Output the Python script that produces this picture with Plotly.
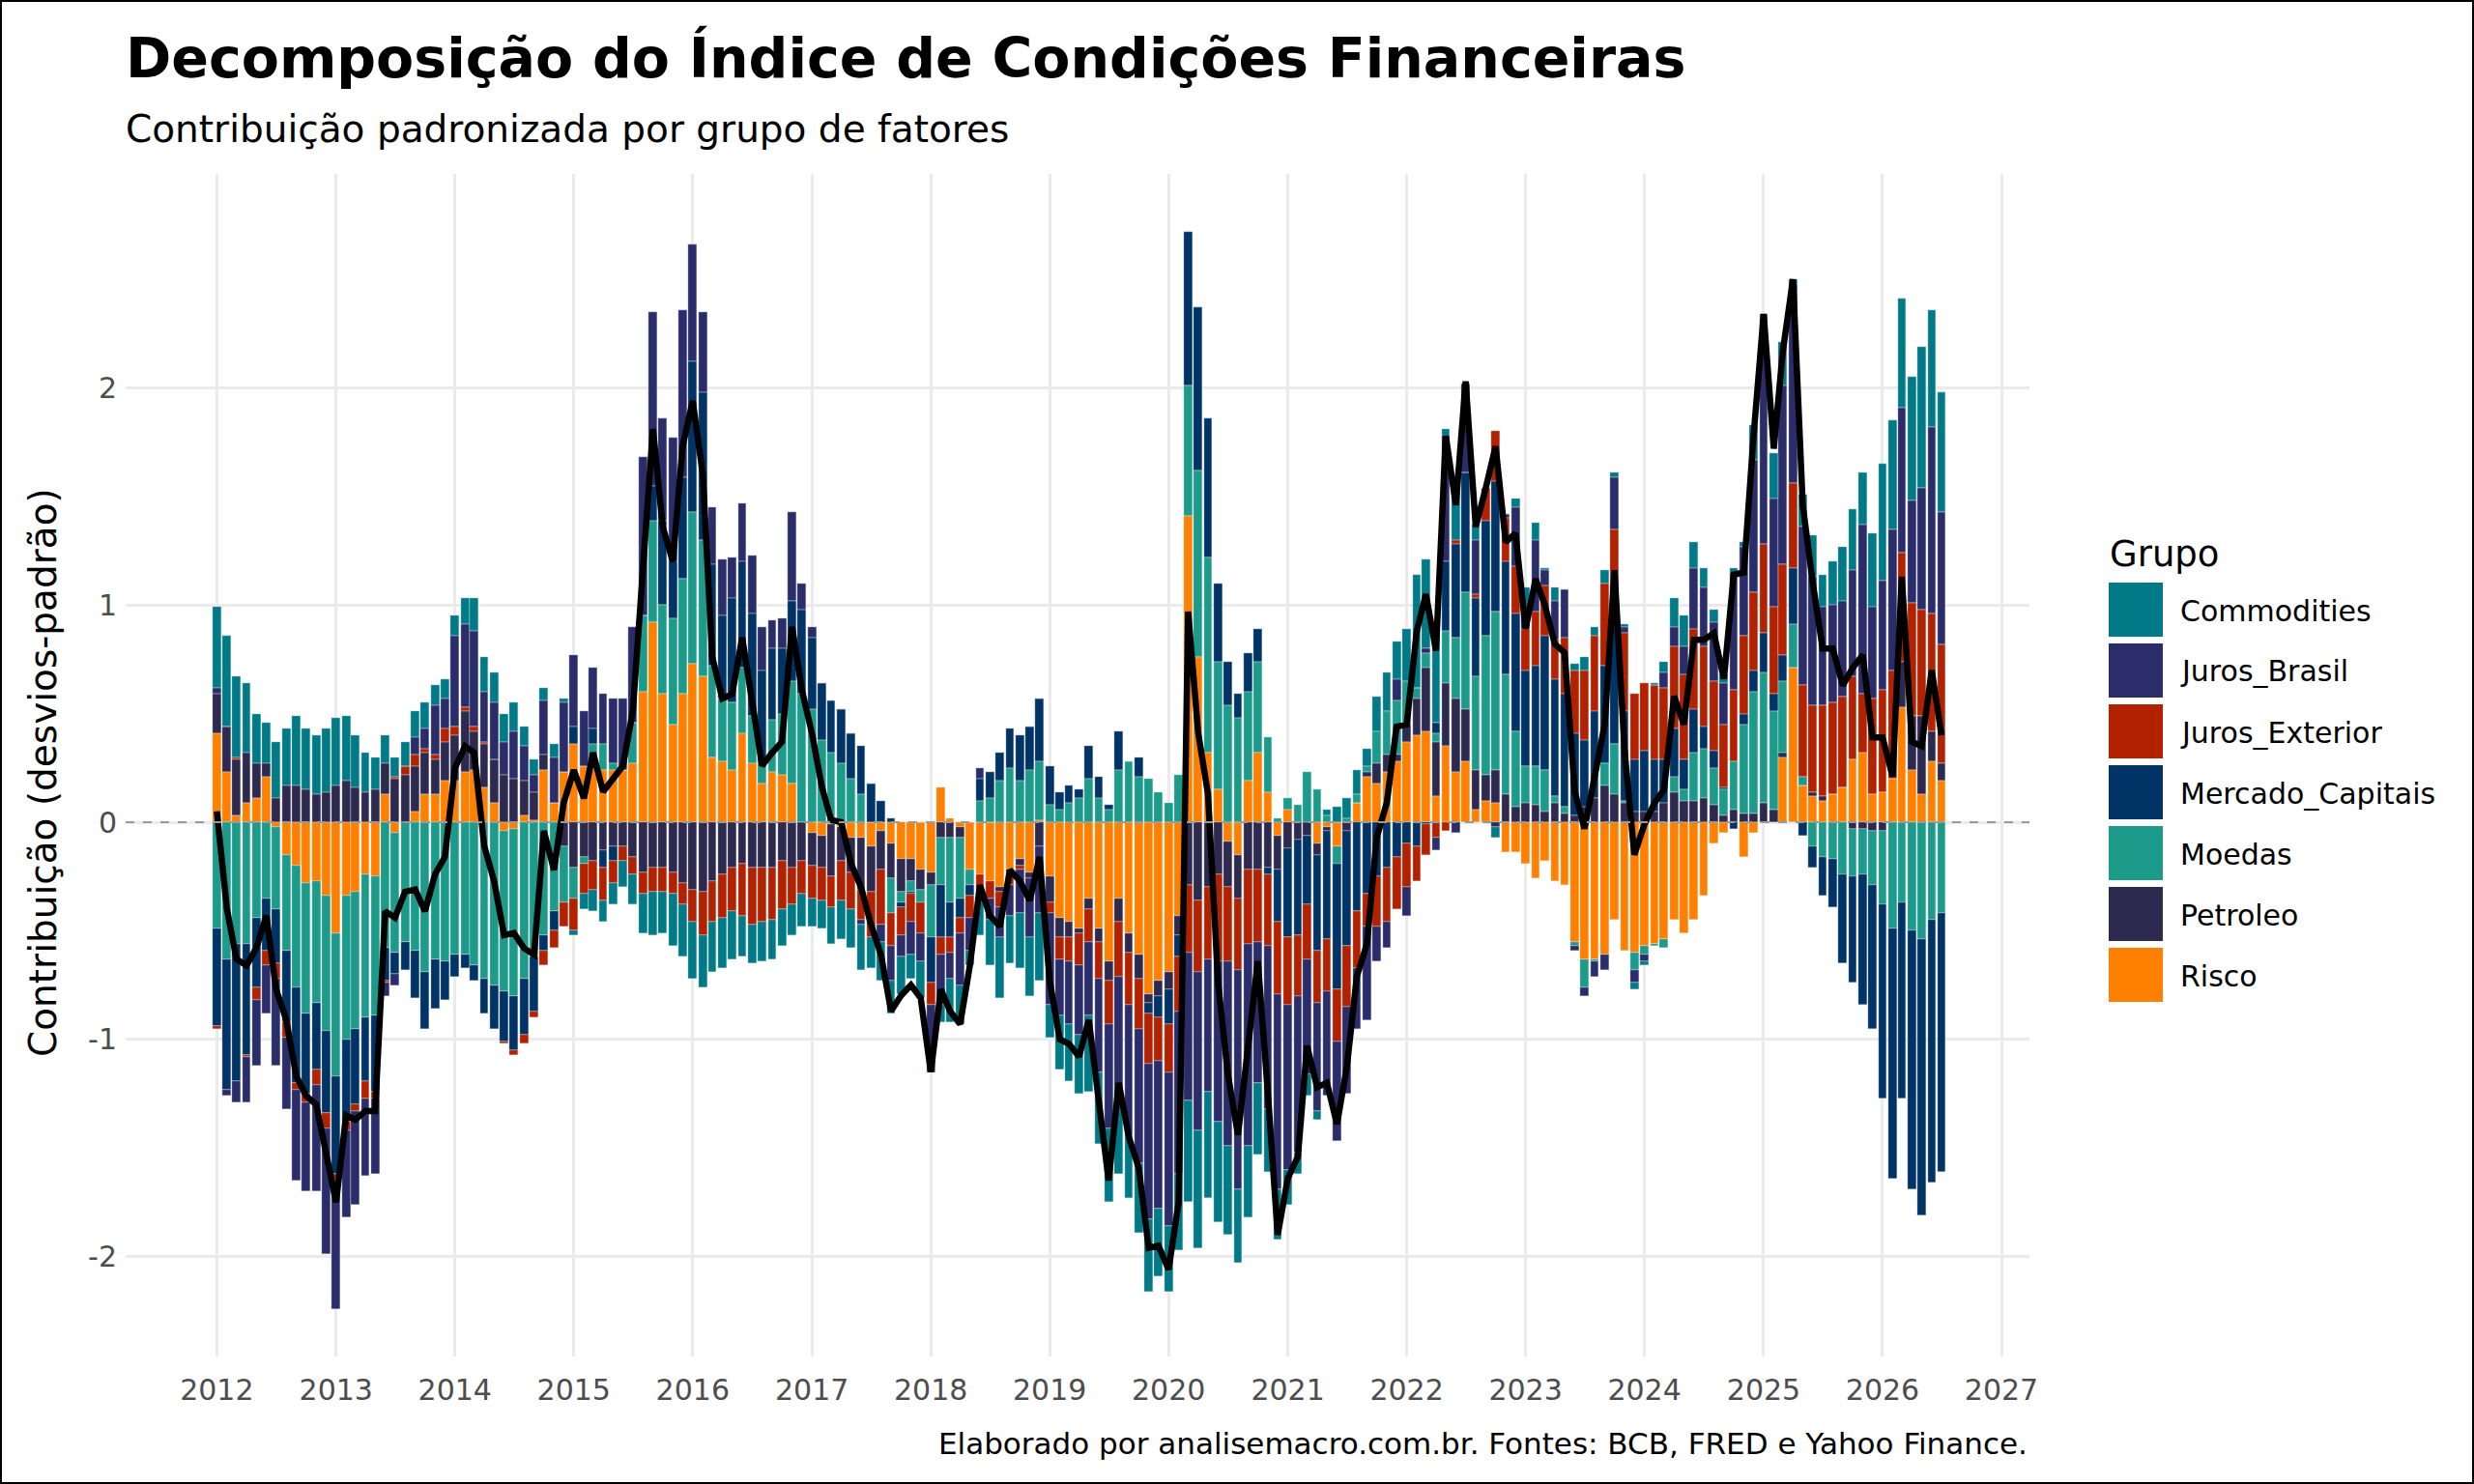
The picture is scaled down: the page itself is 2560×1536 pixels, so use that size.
import pandas as pd
import plotly.graph_objects as go

meses = pd.date_range("2012-01-01", periods=175, freq="MS")

risco = [0.41,0.23,0.03,0.09,0.11,0.21,-0.02,-0.15,-0.20,-0.28,
 -0.27,-0.34,-0.51,-0.34,-0.32,-0.24,-0.25,0.13,-0.05,0.00,
 0.05,0.13,0.13,0.19,0.19,0.23,0.24,0.16,0.09,-0.04,
 -0.03,0.03,0.01,0.24,0.09,0.23,0.36,0.26,0.25,0.24,
 0.24,0.24,0.27,0.60,0.92,0.59,0.45,0.59,0.73,0.67,
 0.30,0.28,0.24,0.41,0.27,0.18,0.23,0.22,0.18,0.00,
 -0.05,-0.06,-0.01,-0.02,-0.07,-0.07,-0.11,-0.04,-0.10,-0.17,
 -0.17,-0.22,-0.23,0.16,0.02,-0.02,-0.22,-0.24,-0.27,-0.30,
 -0.22,-0.17,-0.23,0.01,-0.25,-0.44,-0.46,-0.49,-0.35,-0.49,
 -0.64,-0.35,-0.51,-0.61,-0.79,-0.73,-0.69,-0.43,1.41,0.76,
 0.32,0.15,-0.09,-0.15,0.19,0.32,0.14,-0.06,0.06,0.00,
 0.00,-0.10,-0.02,-0.11,0.00,0.09,0.21,0.18,0.23,0.28,
 0.37,0.40,0.42,0.12,0.35,0.23,0.28,0.06,0.10,0.09,
 -0.14,-0.14,-0.19,-0.26,-0.18,-0.27,-0.29,-0.55,-0.63,-0.63,
 -0.61,-0.45,-0.59,-0.60,-0.57,-0.56,-0.54,-0.45,-0.51,-0.45,
 -0.34,-0.10,-0.05,0.00,-0.16,-0.05,0.00,0.00,0.30,0.71,
 0.17,0.12,0.10,0.13,0.16,0.29,0.32,0.13,0.14,0.20,
 0.53,0.24,0.13,0.28,0.19]

petroleo = [0.18,0.21,0.26,0.23,0.16,0.06,0.11,0.17,0.17,0.15,
 0.13,0.14,0.17,0.19,0.16,0.14,0.15,0.14,0.20,0.22,
 0.21,0.19,0.16,0.18,0.21,0.28,0.18,0.20,0.20,0.22,
 0.20,0.16,0.13,0.07,0.00,-0.11,-0.21,-0.16,-0.18,-0.13,
 -0.11,-0.11,-0.16,-0.23,-0.21,-0.21,-0.23,-0.28,-0.31,-0.32,
 -0.27,-0.24,-0.21,-0.19,-0.21,-0.21,-0.21,-0.18,-0.21,-0.18,
 -0.15,-0.15,-0.24,-0.16,-0.16,-0.24,-0.21,-0.18,-0.16,-0.15,
 -0.10,-0.09,-0.06,-0.07,-0.07,-0.05,0.00,0.00,0.00,-0.02,
 -0.01,-0.03,-0.03,-0.11,-0.12,-0.09,-0.07,-0.02,-0.05,-0.06,
 -0.09,-0.11,-0.09,-0.11,-0.04,-0.07,-0.08,-0.09,-0.29,-0.36,
 -0.30,-0.24,-0.21,-0.20,-0.22,-0.22,-0.21,-0.16,-0.12,-0.08,
 -0.06,-0.05,-0.02,0.00,-0.04,0.00,0.02,0.09,0.08,0.03,
 0.08,0.17,0.29,0.25,0.29,0.34,0.24,0.18,0.12,0.15,
 0.13,0.07,0.09,0.08,0.05,0.09,0.04,0.03,0.07,0.11,
 0.17,0.13,0.09,0.05,0.05,0.05,0.09,0.14,0.10,0.10,
 0.11,0.08,0.03,0.06,0.04,0.04,0.09,0.06,0.02,0.00,
 0.00,0.02,0.02,0.00,0.00,-0.03,-0.03,-0.04,-0.04,0.00,
 0.21,0.25,0.36,0.14,0.08]

moedas = [-0.49,-0.63,-0.56,-0.56,-0.44,-0.35,-0.38,-0.44,-0.56,-0.60,
 -0.56,-0.62,-0.66,-0.66,-0.63,-0.66,-0.64,-0.58,-0.55,-0.55,
 -0.59,-0.69,-0.63,-0.64,-0.61,-0.61,-0.66,-0.72,-0.75,-0.74,
 -0.77,-0.72,-0.62,-0.52,-0.41,-0.26,-0.14,-0.03,0.11,0.12,
 0.03,0.00,0.19,0.35,0.47,0.41,0.49,0.53,0.70,0.63,
 0.42,0.29,0.31,0.30,0.22,0.10,0.24,0.28,0.47,0.59,
 0.52,0.38,0.32,0.27,0.20,0.13,0.00,0.00,-0.16,-0.05,
 -0.05,-0.06,-0.24,-0.22,-0.30,-0.28,-0.07,0.10,0.11,0.19,
 0.25,0.19,0.24,0.27,0.08,0.06,0.09,0.11,0.20,0.11,
 0.06,0.24,0.28,0.21,0.20,0.14,0.09,0.22,0.60,0.86,
 0.90,0.59,0.54,0.48,0.41,0.42,0.25,0.02,0.05,0.08,
 0.23,0.15,0.03,-0.08,0.02,0.04,0.03,0.15,0.20,0.25,
 0.20,0.05,0.07,0.04,0.24,0.28,0.54,0.43,0.64,0.73,
 0.55,0.35,0.17,0.18,0.19,0.03,0.03,-0.02,-0.13,-0.01,
 0.10,0.23,0.01,-0.08,-0.04,-0.01,-0.04,0.07,0.05,0.22,
 0.23,0.17,0.12,0.22,0.41,0.56,0.60,0.45,0.33,0.20,
 0.04,-0.11,-0.16,-0.17,-0.24,-0.22,-0.21,-0.25,-0.34,-0.49,
 -0.37,-0.50,-0.54,-0.45,-0.42]

mercado_capitais = [-0.45,-0.60,-0.63,-0.51,-0.32,-0.24,-0.25,-0.33,-0.44,-0.37,
 -0.31,-0.38,-0.45,-0.38,-0.35,-0.29,-0.35,-0.15,-0.10,-0.13,
 -0.22,-0.26,-0.23,-0.18,-0.10,-0.06,-0.07,-0.16,-0.20,-0.23,
 -0.25,-0.26,-0.25,-0.07,-0.09,0.00,0.08,0.00,0.07,-0.08,
 -0.07,0.00,0.00,0.00,0.16,0.39,0.26,0.47,0.69,0.68,
 0.47,0.38,0.48,0.49,0.47,0.42,0.33,0.30,0.37,0.39,
 0.33,0.26,0.24,0.25,0.21,0.22,0.18,0.10,0.02,-0.02,
 -0.01,0.00,-0.21,-0.24,-0.16,-0.09,-0.05,0.10,0.12,0.13,
 0.18,0.21,0.20,0.29,0.18,0.08,0.08,0.04,0.15,0.10,
 0.02,0.18,0.00,0.09,-0.05,-0.10,-0.16,-0.10,0.71,0.75,
 0.64,0.36,0.20,0.11,0.18,0.15,-0.03,-0.24,-0.41,-0.44,
 -0.32,-0.44,-0.50,-0.58,-0.53,-0.41,-0.33,-0.25,-0.21,-0.16,
 -0.10,-0.11,-0.01,0.05,0.32,0.43,0.55,0.36,0.53,0.60,
 0.52,0.54,0.44,0.46,0.62,0.54,0.52,0.38,0.31,0.40,
 0.45,0.69,0.41,0.24,0.28,0.24,0.20,0.22,0.14,0.20,
 0.10,0.08,0.01,-0.03,0.05,0.10,0.18,0.08,0.12,0.26,
 -0.06,-0.10,-0.18,-0.22,-0.41,-0.49,-0.60,-0.66,-0.89,-1.15,
 -0.90,-1.19,-1.27,-1.21,-1.19]

juros_exterior = [-0.01,0.00,0.01,-0.01,-0.06,-0.07,-0.07,-0.07,-0.03,-0.04,
 -0.07,-0.07,-0.03,-0.04,-0.03,-0.08,-0.03,-0.01,0.01,0.04,
 0.05,0.02,0.02,0.06,0.04,0.02,0.02,0.01,0.00,-0.01,
 -0.02,-0.04,-0.03,-0.07,-0.08,-0.11,-0.15,-0.14,-0.13,-0.15,
 -0.10,-0.07,-0.08,-0.10,-0.11,-0.11,-0.10,-0.10,-0.15,-0.20,
 -0.19,-0.20,-0.20,-0.24,-0.26,-0.25,-0.24,-0.22,-0.17,-0.15,
 -0.15,-0.15,-0.14,-0.18,-0.17,-0.14,-0.21,-0.25,-0.15,-0.13,
 -0.13,-0.14,-0.10,-0.08,-0.07,-0.07,-0.10,-0.12,-0.08,-0.07,
 -0.06,-0.02,0.00,0.00,-0.05,-0.10,-0.11,-0.15,-0.15,-0.17,
 -0.20,-0.25,-0.24,-0.23,-0.23,-0.20,-0.22,-0.25,-0.31,-0.33,
 -0.33,-0.40,-0.34,-0.33,-0.34,-0.33,-0.33,-0.33,-0.31,-0.28,
 -0.25,-0.24,-0.24,-0.24,-0.28,-0.26,-0.15,-0.23,-0.25,-0.24,
 -0.20,-0.16,-0.14,-0.07,-0.04,0.02,0.00,0.02,0.15,0.23,
 0.20,0.22,0.19,0.25,0.23,0.18,0.26,0.29,0.32,0.35,
 0.38,0.30,0.36,0.30,0.31,0.34,0.33,0.38,0.39,0.37,
 0.37,0.32,0.29,0.33,0.36,0.36,0.41,0.40,0.42,0.39,
 0.42,0.40,0.42,0.42,0.42,0.38,0.27,0.44,0.47,0.50,
 0.50,0.52,0.49,0.54,0.55]

juros_brasil = [0.03,-0.03,-0.10,-0.21,-0.30,-0.22,-0.40,-0.33,-0.42,-0.41,
 -0.49,-0.58,-0.59,-0.40,-0.43,-0.36,-0.35,-0.06,-0.05,0.00,
 0.08,0.09,0.23,0.14,0.42,0.38,0.44,0.23,0.26,0.15,
 0.22,0.16,0.08,0.25,0.21,0.32,0.33,0.25,0.28,0.23,
 0.30,0.33,0.44,0.73,0.80,0.47,0.57,0.77,0.54,0.37,
 0.26,0.26,0.19,0.27,0.27,0.20,0.13,0.14,0.41,0.12,
 0.05,0.00,0.00,0.00,0.00,-0.02,0.00,-0.08,-0.16,-0.10,
 -0.15,-0.13,-0.20,-0.23,-0.12,-0.24,-0.15,0.05,-0.10,-0.14,
 -0.14,-0.20,-0.27,-0.31,-0.42,-0.26,-0.29,-0.32,-0.34,-0.43,
 -0.48,-0.58,-0.60,-0.62,-0.72,-0.68,-0.71,-0.75,-0.68,-0.73,
 -0.61,-0.74,-0.85,-1.01,-0.93,-0.65,-0.75,-0.90,-0.76,-0.72,
 -0.53,-0.50,-0.48,-0.46,-0.40,-0.28,-0.43,-0.16,-0.12,0.10,
 -0.13,0.00,0.02,-0.06,0.58,-0.05,0.41,0.25,0.00,-0.02,
 0.02,0.27,0.10,0.33,0.07,0.18,0.22,-0.02,-0.04,-0.07,
 -0.07,0.24,0.03,-0.06,-0.03,0.00,0.07,0.09,0.13,0.28,
 0.27,0.27,0.19,0.54,0.41,0.61,1.04,0.50,0.82,0.92,
 0.73,0.59,0.45,0.45,0.44,0.49,0.78,0.42,0.50,0.65,
 0.67,0.47,0.56,0.86,0.61]

commodities = [0.37,0.42,0.37,0.32,0.23,0.19,0.26,0.26,0.32,0.28,
 0.27,0.29,0.31,0.30,0.24,0.18,0.15,0.13,0.09,0.11,
 0.12,0.12,0.09,0.09,0.09,0.12,0.15,0.16,0.14,0.13,
 0.13,0.09,0.07,0.06,0.06,0.02,-0.02,-0.07,-0.10,-0.10,
 -0.10,-0.12,-0.14,-0.18,-0.20,-0.19,-0.24,-0.24,-0.26,-0.24,
 -0.23,-0.23,-0.22,-0.19,-0.18,-0.18,-0.18,-0.17,-0.14,-0.15,
 -0.13,-0.13,-0.17,-0.18,-0.18,-0.21,-0.14,-0.18,-0.15,-0.17,
 -0.11,-0.17,-0.11,-0.08,-0.20,-0.18,-0.07,-0.16,-0.21,-0.28,
 -0.22,-0.25,-0.27,-0.31,-0.15,-0.25,-0.26,-0.27,-0.35,-0.33,
 -0.34,-0.33,-0.29,-0.32,-0.33,-0.31,-0.30,-0.35,-0.47,-0.54,
 -0.49,-0.46,-0.41,-0.34,-0.33,-0.33,-0.29,-0.23,-0.16,-0.10,
 -0.10,-0.04,0.03,0.07,0.09,0.11,0.08,0.16,0.18,0.17,
 0.24,0.52,0.41,0.43,0.03,0.22,0.00,0.07,0.00,-0.05,
 0.00,0.04,0.09,0.08,0.01,0.06,0.00,0.03,0.06,0.04,
 0.06,0.02,0.01,-0.03,-0.02,0.01,0.05,0.13,0.14,0.12,
 0.09,0.06,0.04,0.02,0.02,0.16,0.02,0.21,0.20,0.02,
 0.15,0.19,0.15,0.20,0.25,0.28,0.24,0.34,0.54,0.50,
 0.50,0.57,0.65,0.54,0.55]

icf = [0.05,-0.40,-0.63,-0.66,-0.58,-0.43,-0.77,-0.91,-1.17,-1.26,
 -1.30,-1.54,-1.75,-1.35,-1.37,-1.33,-1.33,-0.41,-0.44,-0.32,
 -0.31,-0.41,-0.24,-0.16,0.25,0.35,0.32,-0.11,-0.27,-0.52,
 -0.51,-0.58,-0.61,-0.04,-0.22,0.09,0.24,0.11,0.32,0.14,
 0.20,0.26,0.51,1.13,1.81,1.36,1.20,1.73,1.94,1.60,
 0.76,0.57,0.59,0.85,0.56,0.26,0.32,0.37,0.90,0.61,
 0.41,0.16,0.01,0.00,-0.19,-0.30,-0.47,-0.61,-0.87,-0.80,
 -0.75,-0.81,-1.15,-0.77,-0.87,-0.93,-0.66,-0.29,-0.43,-0.48,
 -0.22,-0.27,-0.36,-0.16,-0.73,-1.00,-1.02,-1.08,-0.91,-1.28,
 -1.65,-1.20,-1.45,-1.59,-1.96,-1.95,-2.06,-1.75,0.97,0.41,
 0.13,-0.74,-1.16,-1.44,-1.04,-0.64,-1.25,-1.90,-1.64,-1.54,
 -1.03,-1.22,-1.20,-1.39,-1.13,-0.71,-0.56,-0.07,0.09,0.44,
 0.45,0.88,1.05,0.79,1.78,1.46,2.03,1.36,1.54,1.73,
 1.29,1.33,0.89,1.12,1.00,0.82,0.78,0.14,-0.03,0.20,
 0.45,1.16,0.33,-0.15,-0.01,0.09,0.15,0.58,0.45,0.84,
 0.84,0.87,0.66,1.14,1.15,1.78,2.34,1.72,2.17,2.50,
 1.46,1.10,0.80,0.80,0.63,0.71,0.77,0.39,0.39,0.21,
 1.13,0.37,0.35,0.70,0.40]

grupos = ["Commodities", "Juros_Brasil", "Juros_Exterior", "Mercado_Capitais",
          "Moedas", "Petroleo", "Risco"]
valores = {"Commodities": commodities, "Juros_Brasil": juros_brasil,
           "Juros_Exterior": juros_exterior, "Mercado_Capitais": mercado_capitais,
           "Moedas": moedas, "Petroleo": petroleo, "Risco": risco}
cores = {"Commodities": "#007A87", "Juros_Brasil": "#2B2D6B",
         "Juros_Exterior": "#B22200", "Mercado_Capitais": "#003366",
         "Moedas": "#1C9A8A", "Petroleo": "#2E2A4F", "Risco": "#FF7F00"}

W, H = 2560, 1536
L, R, T, B = 130, 460, 180, 132
PW, PH = W - L - R, H - T - B

def px(x):
    return (x - L) / PW

def py(y):
    return (H - B - y) / PH

fig = go.Figure()
bar_w = 26 * 24 * 3600 * 1000
# stack order: last legend level closest to zero
for g in reversed(grupos):
    fig.add_trace(go.Bar(
        x=meses, y=valores[g], name=g, width=bar_w,
        marker=dict(color=cores[g], line=dict(color="white", width=0.3)),
        showlegend=False))

fig.add_trace(go.Scatter(x=meses, y=icf, mode="lines", name="ICF",
                         line=dict(color="black", width=6.5), showlegend=False))

fig.add_shape(type="line", xref="paper", yref="y", x0=0, x1=1, y0=0, y1=0,
              line=dict(color="#9A9A9A", width=2, dash="dash"))

font = "DejaVu Sans"
annots = []
annots.append(dict(text="<b>Decomposição do Índice de Condições Financeiras</b>",
                   xref="paper", yref="paper", x=px(128), y=py(60),
                   xanchor="left", yanchor="middle", showarrow=False,
                   font=dict(family=font, size=57, color="black")))
annots.append(dict(text="Contribuição padronizada por grupo de fatores",
                   xref="paper", yref="paper", x=px(128), y=py(134),
                   xanchor="left", yanchor="middle", showarrow=False,
                   font=dict(family=font, size=39, color="black")))
annots.append(dict(text="Elaborado por analisemacro.com.br. Fontes: BCB, FRED e Yahoo Finance.",
                   xref="paper", yref="paper", x=px(2100), y=py(1494),
                   xanchor="right", yanchor="middle", showarrow=False,
                   font=dict(family=font, size=31, color="black")))
annots.append(dict(text="Contribuição (desvios-padrão)", textangle=-90,
                   xref="paper", yref="paper", x=px(44), y=py(800),
                   xanchor="center", yanchor="middle", showarrow=False,
                   font=dict(family=font, size=39, color="black")))
annots.append(dict(text="Grupo", xref="paper", yref="paper", x=px(2181), y=py(573),
                   xanchor="left", yanchor="middle", showarrow=False,
                   font=dict(family=font, size=37, color="black")))

shapes = []
for k, g in enumerate(grupos):
    y0 = 603 + 63 * k
    shapes.append(dict(type="rect", xref="paper", yref="paper",
                       x0=px(2182), x1=px(2238), y0=py(y0), y1=py(y0 + 56),
                       fillcolor=cores[g], line=dict(width=0)))
    annots.append(dict(text=g, xref="paper", yref="paper", x=px(2254), y=py(y0 + 29),
                       xanchor="left", yanchor="middle", showarrow=False,
                       font=dict(family=font, size=30, color="black")))
shapes.append(dict(type="rect", xref="paper", yref="paper",
                   x0=px(1), x1=px(W - 1), y0=py(H - 1), y1=py(1),
                   line=dict(color="black", width=2), fillcolor="rgba(0,0,0,0)"))

for s in shapes:
    fig.add_shape(**s)

fig.update_layout(
    width=W, height=H, barmode="relative", bargap=0,
    margin=dict(l=L, r=R, t=T, b=B),
    plot_bgcolor="white", paper_bgcolor="white",
    font=dict(family=font, size=30, color="#4D4D4D"),
    annotations=annots,
    xaxis=dict(type="date", range=["2011-03-27", "2027-03-28"],
               tick0="2012-01-01", dtick="M12", tickformat="%Y",
               showgrid=True, gridcolor="#EBEBEB", gridwidth=3,
               zeroline=False, showline=False, ticks="",
               ticklabelstandoff=14,
               tickfont=dict(family=font, size=30, color="#4D4D4D")),
    yaxis=dict(range=[-2.46, 2.985], tickvals=[-2, -1, 0, 1, 2],
               ticktext=["-2", "-1", "0", "1", "2"],
               showgrid=True, gridcolor="#EBEBEB", gridwidth=3,
               zeroline=False, showline=False, ticks="",
               ticklabelstandoff=8,
               tickfont=dict(family=font, size=30, color="#4D4D4D")),
)

fig.write_html("out.html")
